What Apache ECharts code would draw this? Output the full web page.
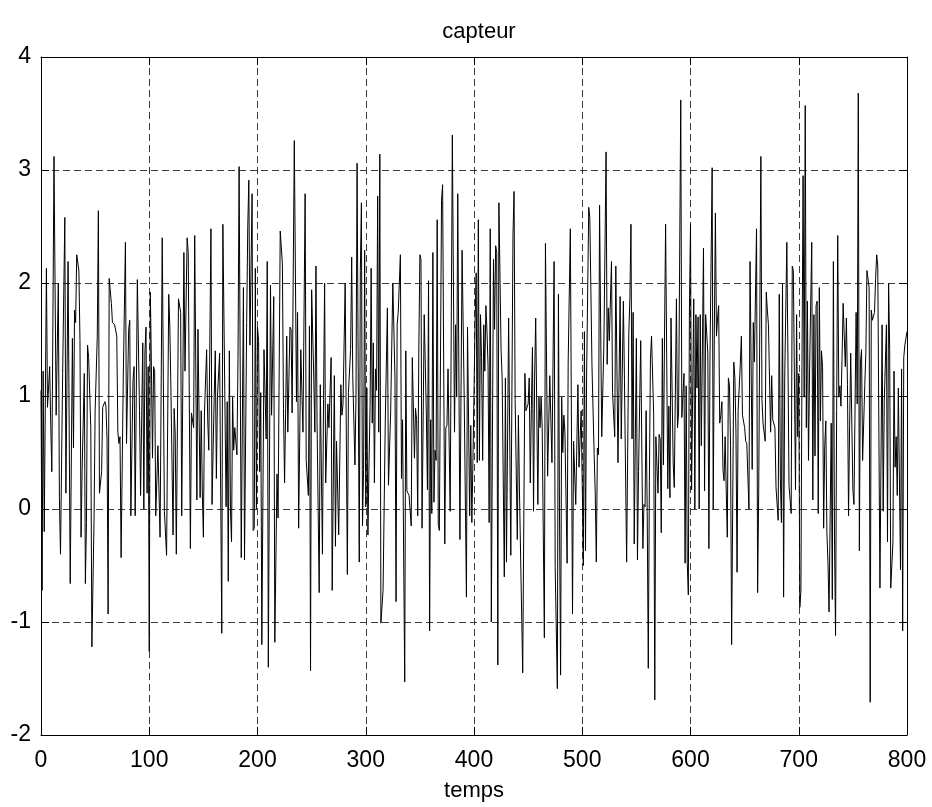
<!DOCTYPE html>
<html>
<head>
<meta charset="utf-8">
<script src="https://cdn.jsdelivr.net/npm/echarts@6/dist/echarts.min.js"></script>
<style>
html,body{margin:0;padding:0;background:#fff;}
#chart{width:932px;height:807px;}
</style>
</head>
<body>
<div id="chart"></div>
<script>
// Title and axis texts
const titre = 'capteur';
const nomAxeX = 'temps';
const xTicks = [0, 100, 200, 300, 400, 500, 600, 700, 800];
const yTicks = [-2, -1, 0, 1, 2, 3, 4];

// Signal samples: [temps, capteur]
const capteur_0_100 = [[0,1.05],[1,-0.72],[2,1.22],[3,-0.2],[5,2.13],[6,0.9],[8,1.26],[9,0.75],[10,0.33],[11,1.67],[12,3.12],[14,0.83],[16,2.0],[17,0.1],[18,-0.4],[20,1.2],[22,2.58],[23,0.14],[25,2.19],[27,-0.66],[29,1.51],[30,0.54],[31,1.76],[32,1.65],[33,2.25],[35,2.11],[36,1.49],[37,-0.25],[38,0.35],[40,1.2],[41,-0.66],[42,-0.12],[43,1.45],[44,1.34],[46,0.72],[47,-1.22],[49,-0.1],[50,0.87],[52,1.53],[53,2.64],[54,0.14],[56,0.33],[57,0.9],[59,0.95],[60,0.91],[61,0.62],[62,-0.93],[63,2.04],[65,1.82],[66,1.65],[68,1.63],[70,1.53],[71,0.68],[72,0.58],[73,0.64],[74,-0.43],[76,1.16],[78,2.36],[79,0.58],[81,1.59],[82,1.67],[83,-0.06],[85,1.14],[86,1.26],[87,-0.06],[89,2.03],[91,0.87],[92,0.12],[94,1.47],[95,0.0],[96,1.38],[97,1.61],[98,0.14],[99,1.26]];
const capteur_100_200 = [[100,-1.26],[101,1.92],[102,1.26],[103,0.45],[104,1.26],[105,1.22],[106,-0.06],[108,0.56],[110,-0.25],[112,2.40],[114,-0.02],[116,-0.41],[118,1.9],[119,1.61],[120,1.07],[122,-0.23],[123,0.89],[124,0.66],[125,-0.4],[127,1.86],[129,1.74],[130,-0.06],[132,2.27],[133,1.22],[135,2.40],[136,2.27],[138,-0.35],[139,0.85],[141,0.72],[142,2.42],[144,0.08],[145,1.59],[147,0.1],[148,0.87],[149,0.16],[150,-0.25],[151,0.85],[153,1.41],[154,0.79],[155,0.52],[157,2.48],[158,0.04],[160,0.99],[161,1.40],[162,0.27],[163,0.99],[165,1.38],[167,-1.10],[168,2.52],[171,0.02],[172,0.95],[173,-0.64],[174,1.4],[175,0.0],[176,-0.29],[177,0.99],[178,0.52],[179,0.72],[181,0.48],[182,1.34],[183,3.03],[185,-0.43],[187,1.96],[188,-0.45],[190,1.65],[191,2.5],[192,2.91],[193,1.45],[195,2.79],[196,-0.19],[197,-0.17],[198,2.13],[199,0.0]];
const capteur_200_300 = [[200,1.61],[201,1.49],[202,0.33],[203,1.03],[204,-1.2],[206,1.41],[208,0.62],[209,2.19],[210,-1.4],[212,1.98],[213,0.83],[215,1.88],[216,-1.18],[218,0.31],[219,-0.08],[221,2.46],[223,2.17],[224,0.89],[225,0.23],[227,1.53],[228,0.68],[230,1.61],[231,1.59],[232,0.85],[234,3.26],[236,0.95],[237,1.74],[238,-0.17],[240,1.41],[242,0.68],[244,2.79],[245,0.43],[247,0.12],[248,1.62],[249,-1.43],[250,1.94],[252,1.16],[253,0.68],[254,2.15],[255,0.78],[257,-0.74],[258,1.1],[260,-0.4],[261,0.97],[262,2.0],[263,0.23],[265,0.93],[266,0.72],[268,1.34],[269,-0.72],[271,1.18],[272,-0.33],[273,0.6],[275,-0.23],[277,1.1],[278,0.83],[279,0.93],[281,2.0],[283,-0.58],[284,1.03],[286,1.41],[287,2.23],[288,1.18],[290,0.39],[291,1.01],[292,3.06],[294,-0.47],[295,2.11],[296,2.71],[297,-0.15],[298,0.35],[299,2.29],[300,0.02],[301,1.07],[302,-0.23],[303,0.39]];
const capteur_300_400 = [[304,0.91],[305,2.13],[306,0.76],[307,1.47],[308,0.23],[309,1.24],[310,1.05],[311,2.77],[312,0.68],[313,3.14],[314,-1.01],[316,-0.72],[318,0.76],[320,1.78],[321,0.21],[323,0.85],[325,2.0],[327,1.16],[328,-0.82],[329,1.63],[330,1.74],[332,2.25],[333,0.27],[334,0.79],[336,-1.53],[337,1.40],[338,0.16],[340,0.12],[342,-0.15],[343,1.34],[345,0.45],[346,0.89],[347,0.79],[348,-0.06],[349,1.38],[350,2.25],[351,2.21],[352,-0.17],[354,1.72],[356,0.83],[357,0.17],[358,2.02],[359,-1.08],[360,0.79],[361,-0.04],[362,2.27],[363,0.06],[364,0.52],[365,0.43],[366,2.56],[367,-0.14],[368,-0.19],[370,2.73],[371,2.87],[373,-0.31],[374,0.72],[375,0.74],[376,1.24],[378,-0.02],[380,3.31],[382,0.68],[383,1.63],[384,0.99],[385,2.79],[387,-0.27],[389,2.29],[391,0.95],[393,-0.78],[394,1.61],[396,-0.06],[397,0.74],[398,-0.12],[399,0.41],[401,1.65],[402,2.09],[403,0.41],[404,2.56]];
const capteur_400_500 = [[405,0.43],[406,1.72],[407,1.34],[408,0.43],[409,1.63],[410,1.22],[411,1.8],[412,1.57],[413,1.26],[414,-0.12],[415,2.48],[416,-1.0],[418,2.21],[419,1.59],[420,2.33],[421,2.27],[422,-1.38],[423,2.71],[425,1.41],[426,1.16],[428,-0.6],[429,1.16],[430,-0.47],[432,1.69],[434,-0.41],[436,2.42],[437,2.81],[438,0.97],[440,-0.27],[441,0.83],[442,0.16],[443,0.17],[445,-1.45],[447,1.20],[448,0.87],[450,0.93],[451,1.16],[452,0.23],[453,0.89],[454,1.43],[455,-0.02],[456,1.16],[457,1.69],[459,0.04],[460,0.99],[461,0.72],[462,0.99],[463,0.72],[465,-1.14],[466,2.35],[468,0.29],[470,1.18],[472,0.41],[474,2.19],[475,-0.52],[477,-1.59],[478,1.9],[479,-0.08],[480,-1.47],[481,0.99],[482,0.5],[483,0.83],[484,0.68],[486,-0.48],[487,1.3],[489,2.48],[491,-0.93],[492,0.6],[494,0.04],[496,1.1],[497,0.37],[499,0.87],[500,0.21],[501,-0.5],[502,1.57],[503,-0.37],[504,1.16]];
const capteur_500_600 = [[506,2.67],[507,2.58],[509,1.26],[511,0.48],[512,0.14],[513,-0.47],[514,0.54],[515,0.48],[516,2.69],[517,1.63],[518,0.64],[520,1.47],[522,3.16],[523,1.28],[524,1.78],[525,1.49],[527,2.19],[528,1.03],[530,0.64],[531,2.15],[533,0.41],[535,1.88],[536,0.62],[538,1.84],[539,1.14],[541,-0.47],[543,1.55],[544,1.86],[545,2.52],[546,0.62],[547,1.74],[548,-0.31],[550,1.51],[551,-0.45],[552,0.33],[554,1.49],[556,-0.35],[557,0.04],[558,0.02],[559,0.87],[560,-0.02],[561,-1.41],[562,0.25],[563,1.32],[564,1.53],[566,0.83],[567,-1.69],[568,0.64],[570,0.14],[571,0.66],[572,0.62],[573,-0.21],[574,1.51],[575,0.39],[576,1.53],[577,2.52],[579,0.18],[580,0.91],[581,0.10],[582,1.69],[584,0.41],[585,0.19],[587,1.86],[588,0.72],[589,0.85],[591,3.62],[592,0.81],[594,1.20],[595,-0.48],[596,1.09],[597,-0.48],[598,-0.76],[599,1.76],[600,2.52],[601,0.17],[603,1.86],[604,0.0]];
const capteur_600_700 = [[605,1.72],[606,1.07],[607,1.7],[608,0.0],[609,1.72],[610,0.56],[612,2.31],[613,0.16],[614,1.72],[616,1.38],[617,-0.35],[618,1.34],[620,3.02],[621,0.0],[622,1.55],[623,2.62],[624,1.53],[625,1.69],[626,1.80],[627,0.76],[628,0.83],[629,0.95],[630,0.35],[631,0.25],[632,0.64],[633,0.16],[634,-0.25],[635,1.16],[636,1.09],[637,0.56],[638,-1.20],[640,1.30],[641,1.16],[642,0.68],[643,-0.56],[644,0.87],[646,1.28],[647,1.53],[648,0.83],[650,0.72],[651,0.6],[652,0.58],[654,0.0],[655,2.19],[657,0.35],[658,1.65],[659,1.30],[661,2.48],[662,-0.74],[663,0.14],[665,3.12],[666,0.97],[667,0.76],[669,0.6],[670,1.92],[671,1.76],[672,1.63],[674,0.68],[675,1.18],[676,0.79],[678,0.72],[679,0.19],[681,-0.1],[682,1.9],[683,0.27],[684,-0.12],[685,2.0],[686,-0.78],[687,1.14],[689,2.36],[690,1.34],[691,0.21],[693,-0.04],[694,2.15],[695,2.11],[697,0.17],[698,1.72],[699,0.64],[700,1.20],[701,-0.87],[702,-0.72],[703,1.28],[704,2.95],[705,0.99],[706,3.57]];
const capteur_700_800 = [[707,0.72],[708,1.84],[709,0.43],[710,1.22],[712,2.36],[713,0.08],[714,1.72],[715,0.47],[716,1.80],[717,1.84],[718,-0.04],[719,1.96],[720,0.78],[721,1.40],[722,1.26],[723,-0.17],[724,0.56],[725,0.78],[726,-0.21],[727,-0.47],[728,-0.91],[730,0.76],[731,-0.80],[732,2.19],[733,-0.25],[734,-1.12],[735,0.87],[736,2.42],[737,0.99],[738,1.09],[739,0.91],[740,1.34],[741,1.82],[743,1.26],[744,1.69],[745,1.1],[746,-0.06],[747,0.74],[748,1.38],[750,0.17],[751,0.04],[753,1.74],[754,0.93],[755,3.68],[756,-0.37],[757,1.30],[758,1.41],[759,0.43],[761,1.1],[762,1.38],[763,2.11],[765,1.96],[766,-1.71],[767,1.76],[768,1.67],[770,1.74],[771,2.04],[772,2.25],[773,2.15],[775,-0.70],[777,1.63],[778,-0.02],[779,0.95],[781,1.63],[782,-0.29],[783,2.0],[784,1.41],[785,-0.70],[787,-0.29],[788,1.22],[789,0.37],[790,0.64],[791,0.12],[792,1.07],[794,-0.54],[795,1.24],[796,-1.08],[797,1.34],[798,1.45],[800,1.57]];

const signal = [].concat(capteur_0_100, capteur_100_200, capteur_200_300, capteur_300_400,
  capteur_400_500, capteur_500_600, capteur_600_700, capteur_700_800);

const FONT = '"Liberation Sans", Arial, sans-serif';
const chart = echarts.init(document.getElementById('chart'), null, {renderer: 'canvas'});

const dashed = {color: '#3c3c3c', width: 1, type: [7, 4]};
const xMin = xTicks[0], xMax = xTicks[xTicks.length - 1], xStep = xTicks[1] - xTicks[0];
const yMin = yTicks[0], yMax = yTicks[yTicks.length - 1], yStep = yTicks[1] - yTicks[0];

chart.setOption({
  backgroundColor: '#ffffff',
  animation: false,
  title: {
    text: titre,
    left: 474,
    top: 16,
    textAlign: 'center',
    textStyle: {fontFamily: FONT, fontSize: 22, fontWeight: 'normal', color: '#000'}
  },
  grid: {left: 41, right: 25, top: 57, bottom: 71, containLabel: false},
  xAxis: [{
    type: 'value', min: xMin, max: xMax, interval: xStep, position: 'bottom',
    name: nomAxeX, nameLocation: 'middle', nameGap: 45,
    nameTextStyle: {fontFamily: FONT, fontSize: 22, color: '#000'},
    axisLine: {show: true, onZero: false, lineStyle: {color: '#000', width: 1}},
    axisTick: {show: true, inside: true, length: 8, lineStyle: {color: '#000'}},
    axisLabel: {fontFamily: FONT, fontSize: 23, color: '#000', margin: 14},
    splitLine: {show: true, lineStyle: dashed}
  }, {
    type: 'value', min: xMin, max: xMax, interval: xStep, position: 'top',
    axisLine: {show: true, onZero: false, lineStyle: {color: '#000', width: 1}},
    axisTick: {show: true, inside: true, length: 8, lineStyle: {color: '#000'}},
    axisLabel: {show: false}, splitLine: {show: false}
  }],
  yAxis: [{
    type: 'value', min: yMin, max: yMax, interval: yStep, position: 'left',
    axisLine: {show: true, onZero: false, lineStyle: {color: '#000', width: 1}},
    axisTick: {show: true, inside: true, length: 8, lineStyle: {color: '#000'}},
    axisLabel: {fontFamily: FONT, fontSize: 23, color: '#000', margin: 10},
    splitLine: {show: true, lineStyle: dashed}
  }, {
    type: 'value', min: yMin, max: yMax, interval: yStep, position: 'right',
    axisLine: {show: true, onZero: false, lineStyle: {color: '#000', width: 1}},
    axisTick: {show: true, inside: true, length: 8, lineStyle: {color: '#000'}},
    axisLabel: {show: false}, splitLine: {show: false}
  }],
  series: [{
    type: 'line',
    xAxisIndex: 0, yAxisIndex: 0,
    data: signal,
    showSymbol: false,
    symbol: 'none',
    lineStyle: {color: '#000', width: 1},
    z: 3
  }]
});
</script>
</body>
</html>
